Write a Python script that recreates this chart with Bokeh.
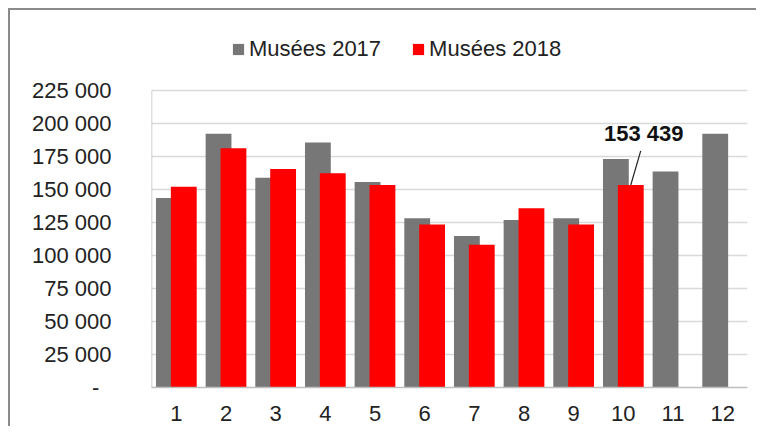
from bokeh.plotting import figure
from bokeh.models import Range1d, FixedTicker, ColumnDataSource, Legend, LegendItem
from bokeh.core.properties import value
from bokeh.embed import file_html
from bokeh.resources import INLINE

months = list(range(1, 13))
month_labels = [str(m) for m in months]
museum_2017 = [143600, 192200, 159000, 185600, 155800, 128200, 114800, 127000, 128200, 173200, 163600, 192200]
museum_2018 = [152200, 181300, 165600, 162300, 153500, 123600, 108200, 135800, 123600, 153439]
series_names = ["Musées 2017", "Musées 2018"]
y_ticks = [0, 25000, 50000, 75000, 100000, 125000, 150000, 175000, 200000, 225000]
callout_month = 10
callout_value = museum_2018[callout_month - 1]

FONT = "Liberation Sans"
GRAY = "#777777"
RED = "#ff0000"
OFF = 0.15
BW = 0.52
Y_TOP = 225000
# extra headroom above the top tick so the legend sits inside the frame
Y_END = Y_TOP * 356.7 / 296.7

def fmt(v):
    if v == 0:
        return "-\u00a0\u00a0"
    return f"{v:,}".replace(",", " ")

p = figure(width=748, height=418, output_backend="svg", toolbar_location=None,
           x_range=Range1d(0.5, 12.5), y_range=Range1d(0, Y_END),
           min_border_left=141, min_border_right=11, min_border_top=20, min_border_bottom=41)
p.styles = {"border-top": "2px solid #8a8a8a", "border-left": "2px solid #8a8a8a",
            "margin-left": "8px", "margin-top": "8px"}
p.outline_line_color = None
p.background_fill_color = "white"
p.border_fill_color = "white"

# left axis line, only over the tick range
p.segment(x0=[0.5], y0=[y_ticks[0]], x1=[0.5], y1=[y_ticks[-1]], line_color="#bfbfbf", line_width=1.5)

src17 = ColumnDataSource(dict(x=[m - OFF for m in months], top=museum_2017))
src18 = ColumnDataSource(dict(x=[m + OFF for m in months[:len(museum_2018)]], top=museum_2018))
r17 = p.vbar(x="x", top="top", width=BW, source=src17, fill_color=GRAY, line_color=None)
r18 = p.vbar(x="x", top="top", width=BW, source=src18, fill_color=RED, line_color=None)

# callout
cx = callout_month + OFF
p.segment(x0=[cx], y0=[callout_value], x1=[cx + 0.2], y1=[callout_value + 25800],
          line_color="#222222", line_width=1.2)
p.text(x=[cx], y=[callout_value], text=[fmt(callout_value)], x_offset=13, y_offset=-51,
       text_font=value(FONT), text_font_size="22px", text_font_style="bold",
       text_align="center", text_baseline="middle", text_color="#111111")

# axes
p.xaxis.ticker = FixedTicker(ticks=months)
p.xaxis.major_label_overrides = {m: l for m, l in zip(months, month_labels)}
p.yaxis.ticker = FixedTicker(ticks=y_ticks)
p.yaxis.major_label_overrides = {t: fmt(t) for t in y_ticks}
for ax in (p.xaxis[0], p.yaxis[0]):
    ax.major_tick_line_color = None
    ax.minor_tick_line_color = None
    ax.axis_line_width = 1.5
    ax.major_label_text_font = FONT
    ax.major_label_text_font_size = "22px"
    ax.major_label_text_color = "#222222"
p.xaxis.axis_line_color = "#bfbfbf"
p.yaxis.axis_line_color = None
p.xaxis.major_label_standoff = 12
p.yaxis.major_label_standoff = 34
p.xgrid.grid_line_color = None
p.ygrid.grid_line_color = "#d9d9d9"
p.ygrid.grid_line_width = 1.5
p.ygrid.ticker = FixedTicker(ticks=y_ticks)

lg = Legend(items=[LegendItem(label=series_names[0], renderers=[r17]),
                   LegendItem(label=series_names[1], renderers=[r18])])
lg.orientation = "horizontal"
lg.location = (80, 325)
lg.border_line_color = None
lg.background_fill_alpha = 0
lg.padding = 0
lg.margin = 0
lg.glyph_width = 14
lg.glyph_height = 14
lg.label_standoff = 4
lg.spacing = 30
lg.label_text_font = FONT
lg.label_text_font_size = "22px"
lg.label_text_color = "#222222"
p.add_layout(lg, "center")

open("out.html", "w").write(file_html(p, INLINE))
